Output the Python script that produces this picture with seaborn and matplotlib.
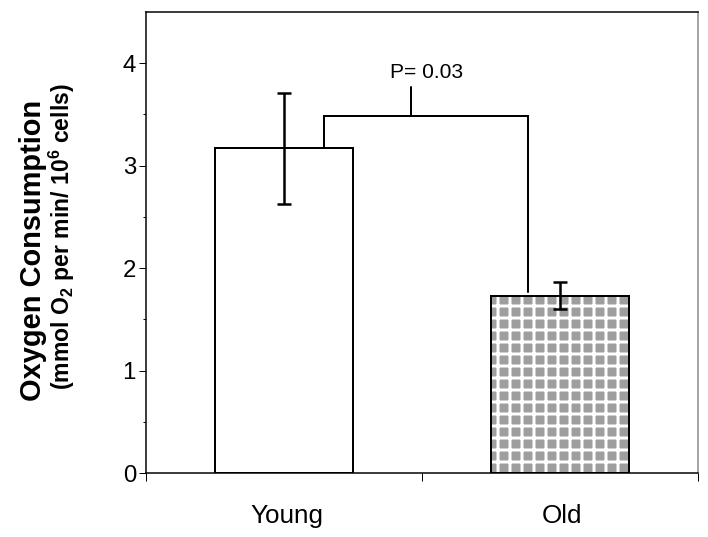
import matplotlib
matplotlib.use("Agg")
import matplotlib.pyplot as plt
import seaborn as sns
import pandas as pd

groups = ["Young", "Old"]
oxygen = [3.17, 1.73]
sem = [0.54, 0.13]
p_label = "P= 0.03"
yticks = [0, 1, 2, 3, 4]

sns.set_style("ticks")
plt.rcParams['font.family'] = ['Liberation Sans', 'DejaVu Sans']
plt.rcParams['mathtext.fontset'] = 'custom'
plt.rcParams['mathtext.rm'] = 'Liberation Sans:bold'
plt.rcParams['mathtext.default'] = 'rm'
plt.rcParams['hatch.linewidth'] = 3.0
plt.rcParams['text.color'] = 'black'
plt.rcParams['xtick.color'] = 'black'
plt.rcParams['ytick.color'] = 'black'
plt.rcParams['xtick.labelcolor'] = 'black'
plt.rcParams['ytick.labelcolor'] = 'black'

DPI = 72
fig = plt.figure(figsize=(708 / DPI, 537 / DPI), dpi=DPI)
ax = fig.add_axes([146 / 708, 64 / 537, 552 / 708, 461 / 537])

df = pd.DataFrame({"group": groups, "value": oxygen})
sns.barplot(data=df, x="group", y="value", order=groups, errorbar=None,
            width=0.5, ax=ax, palette=["white", "#9e9e9e"], hue="group",
            legend=False, edgecolor="black", linewidth=2, zorder=2)

# texture on the "Old" bar: white grid over gray
ax.bar([1], [oxygen[1]], width=0.5, fill=False, hatch="+", edgecolor="white",
       linewidth=0, zorder=3)
ax.bar([0, 1], oxygen, width=0.5, fill=False, edgecolor="black",
       linewidth=2, zorder=4)

ax.errorbar([0, 1], oxygen, yerr=sem, fmt="none", ecolor="black",
            elinewidth=2.5, capsize=7, capthick=2.5, zorder=5)

# significance bracket
yb = 3.48
ax.plot([0.145, 0.145, 0.884, 0.884], [oxygen[0], yb, yb, 1.77],
        color="black", lw=2, zorder=5, solid_joinstyle="miter")
ax.plot([0.46, 0.46], [yb, 3.77], color="black", lw=2, zorder=5)
ax.text(0.518, 3.91, p_label, ha="center", va="center", fontsize=21)

ax.set_xlim(-0.5, 1.5)
ax.set_ylim(0, 4.5)
ax.set_yticks(yticks)
ax.set_yticks([0.5, 1.5, 2.5, 3.5], minor=True)
ax.set_yticklabels([str(t) for t in yticks], fontsize=24)
ax.set_xticks([0.01, 1.007])
ax.set_xticklabels(groups, fontsize=26)
ax.set_xticks([-0.5, 0.5, 1.5], minor=True)
ax.tick_params(axis="x", which="major", length=0, pad=31)
ax.tick_params(axis="x", which="minor", length=8, width=1, direction="out")
ax.tick_params(axis="y", which="major", length=7, width=1, pad=3)
ax.tick_params(axis="y", which="minor", length=3, width=1)
ax.set_xlabel("")
ax.set_ylabel("")

for side in ["left", "top", "bottom", "right"]:
    ax.spines[side].set_visible(True)
    ax.spines[side].set_linewidth(1.5)
    ax.spines[side].set_color("black")
ax.spines["right"].set_color("#888888")

fig.text(33 / 708, 1 - 250 / 537, "Oxygen Consumption", rotation=90,
         ha="center", va="center", fontsize=29, fontweight="bold")
fig.text(62 / 708, 1 - 237 / 537, r"(mmol O$_2$ per min/ 10$^6$ cells)",
         rotation=90, ha="center", va="center", fontsize=23, fontweight="bold")

fig.savefig("out.png", dpi=DPI)
